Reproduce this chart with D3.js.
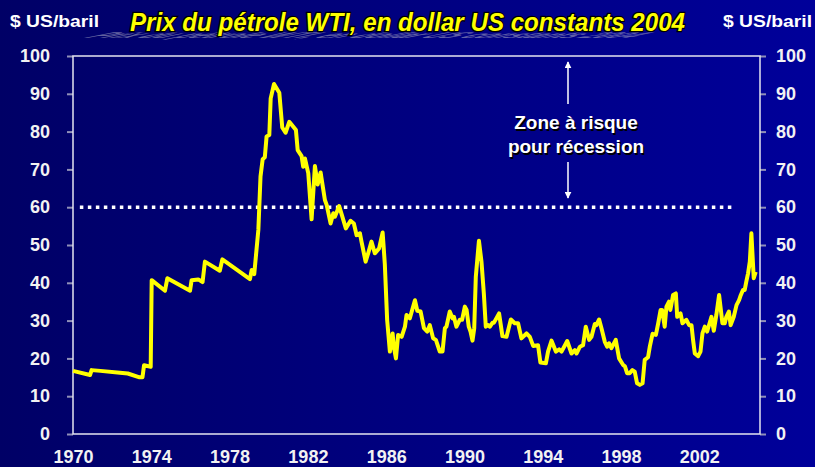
<!DOCTYPE html>
<html>
<head>
<meta charset="utf-8">
<script src="https://cdn.jsdelivr.net/npm/d3@7"></script>
<style>
  body { margin: 0; background: #000070; }
  svg { display: block; font-family: "Liberation Sans", Arial, sans-serif; }
</style>
</head>
<body>
<div id="chart"></div>
<script>
// Data (decimal year, $ 2004 per barrel)
const years = [
  1970.00, 1970.87, 1970.95, 1971.40, 1972.40, 1972.80, 1973.40, 1973.55, 1973.63, 1973.97,
  1974.02, 1974.70, 1974.82, 1975.98, 1976.06, 1976.40, 1976.62, 1976.74, 1977.50, 1977.63,
  1979.04, 1979.13, 1979.26, 1979.47, 1979.58, 1979.69, 1979.80, 1979.89, 1980.03, 1980.10,
  1980.27, 1980.54, 1980.69, 1980.86, 1981.05, 1981.39, 1981.48, 1981.68, 1981.76, 1981.85,
  1982.02, 1982.19, 1982.36, 1982.50, 1982.65, 1982.87, 1982.96, 1983.16, 1983.30, 1983.38,
  1983.60, 1983.94, 1984.18, 1984.35, 1984.49, 1984.66, 1984.74, 1984.95, 1985.08, 1985.25,
  1985.42, 1985.64, 1985.82, 1985.93, 1986.05, 1986.19, 1986.33, 1986.39, 1986.50, 1986.61,
  1986.79, 1986.96, 1987.04, 1987.21, 1987.47, 1987.59, 1987.76, 1987.93, 1988.10, 1988.23,
  1988.40, 1988.54, 1988.74, 1988.88, 1989.00, 1989.08, 1989.25, 1989.39, 1989.46, 1989.59,
  1989.76, 1989.88, 1990.02, 1990.11, 1990.22, 1990.31, 1990.41, 1990.50, 1990.58, 1990.74,
  1990.87, 1990.99, 1991.09, 1991.21, 1991.30, 1991.43, 1991.50, 1991.77, 1991.94, 1992.15,
  1992.37, 1992.57, 1992.74, 1992.91, 1993.17, 1993.34, 1993.51, 1993.76, 1993.88, 1994.16,
  1994.27, 1994.45, 1994.67, 1994.84, 1994.96, 1995.25, 1995.47, 1995.64, 1995.73, 1995.90,
  1996.06, 1996.20, 1996.37, 1996.49, 1996.66, 1996.74, 1996.88, 1997.00, 1997.17, 1997.29,
  1997.39, 1997.51, 1997.73, 1997.90, 1998.10, 1998.20, 1998.31, 1998.44, 1998.58, 1998.70,
  1998.82, 1998.96, 1999.10, 1999.21, 1999.38, 1999.47, 1999.61, 1999.78, 1999.90, 2000.02,
  2000.10, 2000.23, 2000.32, 2000.45, 2000.52, 2000.66, 2000.80, 2000.87, 2001.04, 2001.14,
  2001.34, 2001.48, 2001.60, 2001.68, 2001.77, 2001.94, 2002.06, 2002.16, 2002.28, 2002.40,
  2002.62, 2002.74, 2002.87, 2003.01, 2003.18, 2003.30, 2003.38, 2003.51, 2003.60, 2003.76,
  2003.90, 2004.03, 2004.10, 2004.23, 2004.32, 2004.40, 2004.49, 2004.58, 2004.66, 2004.78,
  2004.88
];
const prices = [
  16.7, 15.6, 16.9, 16.7, 16.2, 16.0, 15.0, 15.0, 18.2, 17.8,
  40.7, 37.9, 41.2, 37.9, 40.7, 40.9, 40.2, 45.6, 43.2, 46.2,
  41.0, 43.4, 42.3, 54.0, 68.1, 72.7, 73.2, 78.7, 79.1, 88.8,
  92.6, 90.3, 81.1, 79.7, 82.6, 80.4, 75.1, 73.5, 70.7, 72.9,
  69.0, 56.8, 70.9, 66.0, 69.2, 61.9, 60.6, 55.7, 58.4, 57.5,
  60.3, 54.4, 56.4, 55.7, 52.6, 53.1, 50.9, 45.6, 47.8, 50.9,
  47.8, 49.1, 53.3, 45.1, 30.2, 21.8, 26.6, 23.1, 20.0, 26.2,
  25.7, 28.4, 31.5, 30.6, 35.4, 32.6, 32.4, 28.0, 27.1, 28.8,
  25.3, 24.9, 21.8, 21.8, 28.0, 28.4, 32.4, 30.6, 31.0, 28.4,
  30.2, 30.2, 33.7, 32.8, 28.4, 27.1, 24.7, 28.0, 41.6, 51.1,
  45.6, 37.2, 28.4, 28.8, 28.4, 29.4, 29.4, 31.9, 25.9, 25.7,
  30.3, 29.3, 29.3, 25.3, 26.6, 25.7, 23.3, 23.5, 18.9, 18.7,
  21.8, 24.7, 21.8, 22.4, 21.8, 24.6, 21.3, 22.2, 21.3, 23.1,
  23.5, 28.4, 24.9, 25.7, 29.1, 28.8, 30.3, 28.0, 24.4, 23.1,
  24.0, 22.7, 24.9, 20.0, 18.3, 17.9, 16.1, 16.1, 16.9, 16.5,
  13.4, 13.0, 13.4, 19.6, 20.3, 23.1, 26.5, 26.2, 29.3, 32.8,
  32.8, 28.4, 33.7, 35.0, 32.8, 36.8, 37.2, 31.0, 31.9, 29.3,
  30.2, 28.8, 28.8, 24.9, 21.3, 20.6, 21.8, 26.6, 28.4, 27.1,
  31.0, 27.3, 31.5, 36.8, 29.3, 29.3, 31.0, 32.4, 28.8, 31.0,
  34.1, 35.4, 36.5, 38.1, 38.1, 40.3, 42.5, 45.6, 53.1, 41.2,
  42.9
];
const xTicks = [1970, 1974, 1978, 1982, 1986, 1990, 1994, 1998, 2002];
const yTicks = [0, 10, 20, 30, 40, 50, 60, 70, 80, 90, 100];
const threshold = 60;
const thresholdSpan = [1970.35, 2003.65];

const width = 815;
const height = 467;
const margin = { top: 56, right: 55, bottom: 33, left: 73 };

const svg = d3.select("#chart")
    .append("svg")
    .attr("width", width)
    .attr("height", height);

// background gradient, dark navy left to brighter blue right
const defs = svg.append("defs");
const grad = defs.append("linearGradient")
    .attr("id", "bg")
    .attr("x1", "0").attr("x2", "1").attr("y1", "0").attr("y2", "0");
grad.append("stop").attr("offset", "0%").attr("stop-color", "#000066");
grad.append("stop").attr("offset", "100%").attr("stop-color", "#00009a");

svg.append("rect")
    .attr("width", width)
    .attr("height", height)
    .attr("fill", "url(#bg)");

const x = d3.scaleLinear()
    .domain([1970, 2005.1])
    .range([margin.left, width - margin.right]);

const y = d3.scaleLinear()
    .domain([0, 100])
    .range([height - margin.bottom, margin.top]);

// axes
const yLeft = d3.axisLeft(y).tickValues(yTicks).tickSize(6).tickPadding(17);
const yRight = d3.axisRight(y).tickValues(yTicks).tickSize(6).tickPadding(10);
const xAxis = d3.axisBottom(x).tickValues(xTicks).tickFormat(d3.format("d")).tickSize(0).tickPadding(16);

function styleAxis(g) {
    g.select(".domain").remove();
    g.selectAll(".tick line").attr("stroke", "#9090b8").attr("stroke-width", 2);
    g.selectAll(".tick text")
        .attr("fill", "#f2f2f2")
        .style("font-size", "18px")
        .style("font-weight", "bold");
}

svg.append("g")
    .attr("transform", `translate(${margin.left},0)`)
    .call(yLeft)
    .call(styleAxis);

svg.append("g")
    .attr("transform", `translate(${width - margin.right},0)`)
    .call(yRight)
    .call(styleAxis);

svg.append("g")
    .attr("transform", `translate(0,${height - margin.bottom})`)
    .call(xAxis)
    .call(styleAxis);

// frame
svg.append("rect")
    .attr("x", x.range()[0])
    .attr("y", y.range()[1])
    .attr("width", x.range()[1] - x.range()[0])
    .attr("height", y.range()[0] - y.range()[1])
    .attr("fill", "none")
    .attr("stroke", "#e4e4f0")
    .attr("stroke-width", 1.5);

// dotted threshold line
svg.append("line")
    .attr("x1", x(thresholdSpan[0]))
    .attr("x2", x(thresholdSpan[1]))
    .attr("y1", y(threshold))
    .attr("y2", y(threshold))
    .attr("stroke", "#ffffff")
    .attr("stroke-width", 3.5)
    .attr("stroke-dasharray", "3.5,4.5");

// price line
const line = d3.line()
    .x((d, i) => x(years[i]))
    .y(d => y(d));

svg.append("path")
    .datum(prices)
    .attr("fill", "none")
    .attr("stroke", "#ffff00")
    .attr("stroke-width", 4)
    .attr("stroke-linejoin", "round")
    .attr("d", line);

// risk zone annotation
defs.append("marker")
    .attr("id", "head")
    .attr("viewBox", "0 0 10 10")
    .attr("refX", 9).attr("refY", 5)
    .attr("markerWidth", 7).attr("markerHeight", 7)
    .attr("markerUnits", "userSpaceOnUse")
    .attr("orient", "auto")
    .append("path")
    .attr("d", "M0,0 L10,5 L0,10 Z")
    .attr("fill", "#ffffff");

const ax = 568;
svg.append("line")
    .attr("x1", ax).attr("x2", ax).attr("y1", 104).attr("y2", 62)
    .attr("stroke", "#ffffff").attr("stroke-width", 1.5)
    .attr("marker-end", "url(#head)");
svg.append("line")
    .attr("x1", ax).attr("x2", ax).attr("y1", 162).attr("y2", 198)
    .attr("stroke", "#ffffff").attr("stroke-width", 1.5)
    .attr("marker-end", "url(#head)");

const zone = ["Zone à risque", "pour récession"];
[1.5, 0].forEach(off => {
    svg.append("g")
        .selectAll("text")
        .data(zone)
        .join("text")
        .attr("x", 576 + off)
        .attr("y", (d, i) => 129 + i * 24 + off)
        .attr("text-anchor", "middle")
        .attr("fill", off ? "#000000" : "#ffffff")
        .style("font-size", "19px")
        .style("font-weight", "bold")
        .text(d => d);
});

// unit labels
svg.append("text")
    .attr("x", 10).attr("y", 27)
    .attr("fill", "#ffffff")
    .style("font-size", "17px").style("font-weight", "bold")
    .attr("textLength", 89).attr("lengthAdjust", "spacingAndGlyphs")
    .text("$ US/baril");
svg.append("text")
    .attr("x", 723).attr("y", 27)
    .attr("fill", "#ffffff")
    .style("font-size", "17px").style("font-weight", "bold")
    .attr("textLength", 89).attr("lengthAdjust", "spacingAndGlyphs")
    .text("$ US/baril");

// title with flattened grey reflection
const title = "Prix du pétrole WTI, en dollar US constants 2004";
svg.append("text")
    .attr("transform", "translate(122,30) matrix(1,0,-1.6,0.35,0,0)")
    .attr("x", 0).attr("y", 24)
    .attr("fill", "#a0a0c0")
    .attr("opacity", 0.6)
    .style("font-size", "24px").style("font-weight", "bold").style("font-style", "italic")
    .attr("textLength", 545).attr("lengthAdjust", "spacingAndGlyphs")
    .text(title);

svg.append("text")
    .attr("transform", "translate(130,31) scale(1,1.1)")
    .attr("x", 0).attr("y", 0)
    .attr("fill", "#ffff00")
    .attr("stroke", "#000000")
    .attr("stroke-width", 2.3)
    .attr("paint-order", "stroke")
    .style("font-size", "24px").style("font-weight", "bold").style("font-style", "italic")
    .attr("textLength", 555).attr("lengthAdjust", "spacingAndGlyphs")
    .text(title);
</script>
</body>
</html>
